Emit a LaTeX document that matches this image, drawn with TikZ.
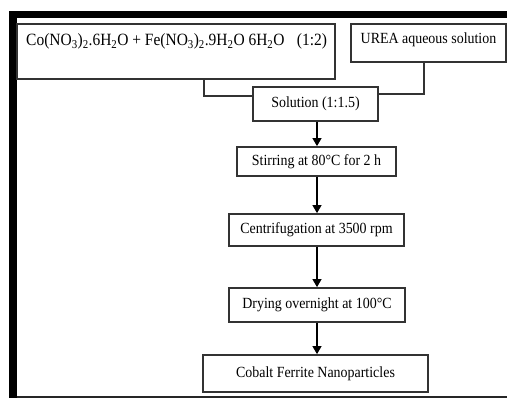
\documentclass[tikz,border=0pt]{standalone}
\usepackage{fontspec}
\setmainfont{Liberation Serif}
\usepackage{graphicx}
\usetikzlibrary{arrows.meta}
\newcommand\sqz[1]{\scalebox{0.9}[1]{#1}}
\tikzset{
  stepbox/.style={draw=black!80, line width=1.5pt, inner sep=0pt, fill=white, text=black, font=\fontsize{15.5}{18}\selectfont},
  lbl/.style={inner sep=0pt, text=black, font=\fontsize{15.5}{18}\selectfont},
  flow/.style={line width=2.6pt, -{Triangle[length=8pt,width=8.5pt]}},
  joint/.style={draw=black!80, line width=1.5pt}
}
\begin{document}
\begin{tikzpicture}[x=1pt,y=-1pt]
\useasboundingbox (0,0) rectangle (507,398);
% frame
\fill[black] (9,11) rectangle (17,398);
\fill[black] (9,11) rectangle (507,18);
\draw[black!85, line width=1.5pt] (17,397) -- (507,397);
% boxes
\node[stepbox, minimum width=318pt, minimum height=55pt] (mix) at (176,51.5) {};
\node[lbl, anchor=base west, font=\fontsize{17.2}{20}\selectfont] (mixt) at (26,46)
  {\sqz{Co(NO\textsubscript{3})\textsubscript{2}.6H\textsubscript{2}O + Fe(NO\textsubscript{3})\textsubscript{2}.9H\textsubscript{2}O 6H\textsubscript{2}O\hspace{0.8em}(1:2)}};
\node[stepbox, minimum width=155pt, minimum height=38pt] (urea) at (428.5,43) {};
\node[lbl] (ureat) at (428.5,40) {\sqz{UREA aqueous solution}};
\node[stepbox, minimum width=125pt, minimum height=34pt] (sol) at (315.5,104) {\sqz{Solution (1:1.5)}};
\node[stepbox, minimum width=159pt, minimum height=29pt] (stir) at (316.5,161.5) {\sqz{Stirring at 80°C for 2 h}};
\node[stepbox, minimum width=175pt, minimum height=32pt] (cent) at (316.5,230) {\sqz{Centrifugation at 3500 rpm}};
\node[stepbox, minimum width=176pt, minimum height=34pt] (dry) at (317,305) {\sqz{Drying overnight at 100°C}};
\node[stepbox, minimum width=225pt, minimum height=37pt] (cfn) at (315.5,373.5) {\sqz{Cobalt Ferrite Nanoparticles}};
% joining lines
\draw[joint] ([xshift=28pt]mix.south) |- ([yshift=8pt]sol.west);
\draw[joint] ([xshift=-4.5pt]urea.south) |- ([yshift=10pt]sol.east);
% arrows
\draw[flow] (sol.south -| 317,0) -- (stir.north -| 317,0);
\draw[flow] (stir.south -| 317,0) -- (cent.north -| 317,0);
\draw[flow] (cent.south -| 317,0) -- (dry.north -| 317,0);
\draw[flow] (dry.south -| 317,0) -- (cfn.north -| 317,0);
\end{tikzpicture}
\end{document}
